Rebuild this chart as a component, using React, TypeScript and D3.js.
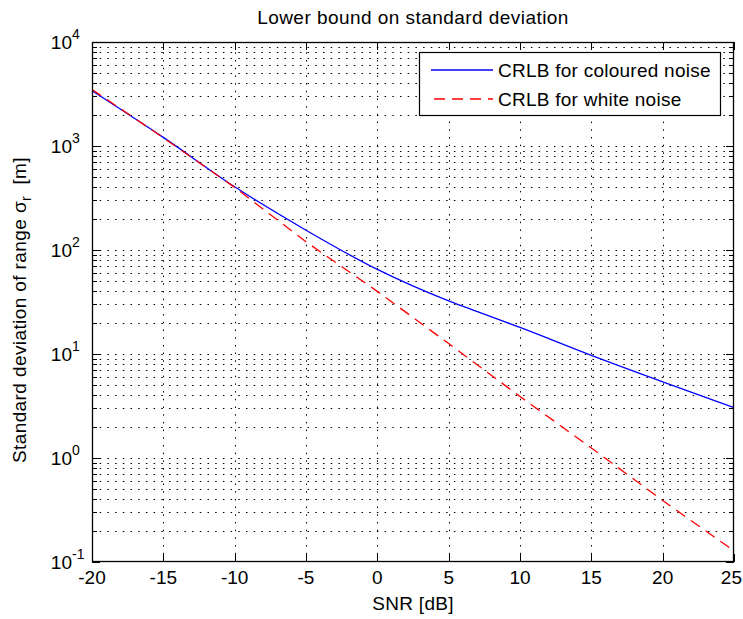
import React, { useEffect } from "react";
import * as d3 from "d3";

const snrTicks = [-20, -15, -10, -5, 0, 5, 10, 15, 20, 25];
const decadeExps = [-1, 0, 1, 2, 3, 4];

const colouredSNR = [-20, -15, -10, -5, 0, 5, 7.2, 10, 15, 20, 25];
const colouredVals = [3400, 1210, 405, 155, 65, 32.4, 25, 18, 9.7, 5.4, 3.05];

const whiteSNR = [-20, -15, -10, -5, 0, 5, 10, 15, 20, 25];
const whiteVals = [3500, 1200, 400, 120, 40, 12.6, 3.9, 1.25, 0.39, 0.128];

const W = 743;
const H = 619;
const L = 92;
const R = 734;
const T = 42;
const B = 562;
const FONT = "'Liberation Sans', Arial, Helvetica, sans-serif";

export default function App() {
  useEffect(() => {
    document.body.style.margin = "0";
  }, []);

  const x = d3.scaleLinear().domain([-20, 25]).range([L, R]);
  const y = d3.scaleLog().domain([0.1, 10000]).range([B, T]);

  const minorVals: number[] = [];
  for (let e = -1; e < 4; e++) {
    for (let k = 1; k <= 9; k++) minorVals.push(k * Math.pow(10, e));
  }

  const blueLine = d3
    .line<number>()
    .x((_, i) => x(colouredSNR[i]))
    .y((d) => y(d))
    .curve(d3.curveMonotoneX)(colouredVals) as string;

  const redLine = d3
    .line<number>()
    .x((_, i) => x(whiteSNR[i]))
    .y((d) => y(d))(whiteVals) as string;

  const dot = "1.5,6.2";

  return (
    <svg width={W} height={H} style={{ display: "block", background: "#fff" }} fontFamily={FONT}>
      <rect x={0} y={0} width={W} height={H} fill="#fff" />
      {/* grid */}
      <g stroke="#000" strokeWidth={1} strokeDasharray={dot} fill="none">
        {minorVals
          .filter((v) => v > 0.1)
          .map((v, i) => (
            <line key={"h" + i} x1={L} x2={R} y1={Math.round(y(v)) + 0.5} y2={Math.round(y(v)) + 0.5} />
          ))}
        {snrTicks.slice(1, -1).map((t) => (
          <line key={"v" + t} x1={Math.round(x(t)) + 0.5} x2={Math.round(x(t)) + 0.5} y1={B} y2={T} />
        ))}
      </g>
      {/* ticks */}
      <g stroke="#000" strokeWidth={1}>
        {snrTicks.map((t) => {
          const xx = Math.round(x(t)) + 0.5;
          return (
            <g key={"xt" + t}>
              <line x1={xx} x2={xx} y1={B} y2={B - 8} />
              <line x1={xx} x2={xx} y1={T} y2={T + 8} />
            </g>
          );
        })}
        {minorVals.concat([10000]).map((v, i) => {
          const yy = Math.round(y(v)) + 0.5;
          const major = Math.abs(Math.log10(v) - Math.round(Math.log10(v))) < 1e-9;
          const len = major ? 8 : 5;
          return (
            <g key={"yt" + i}>
              <line x1={L} x2={L + len} y1={yy} y2={yy} />
              <line x1={R} x2={R - len} y1={yy} y2={yy} />
            </g>
          );
        })}
      </g>
      {/* data */}
      <path d={blueLine} fill="none" stroke="#0000ff" strokeWidth={1.3} />
      <path d={redLine} fill="none" stroke="#ff0000" strokeWidth={1.3} strokeDasharray="11,7" />
      {/* frame */}
      <rect x={L + 0.5} y={T + 0.5} width={R - L - 1} height={B - T - 1} fill="none" stroke="#000" strokeWidth={1.3} />
      {/* x tick labels */}
      <g fontSize={19} fill="#000">
        {snrTicks.map((t, i) => {
          const last = i === snrTicks.length - 1;
          return (
            <text key={"xl" + t} x={last ? W - 1 : x(t)} y={584} textAnchor={last ? "end" : "middle"}>
              {t}
            </text>
          );
        })}
      </g>
      {/* y tick labels */}
      <g fill="#000">
        {decadeExps.map((e) => (
          <text key={"yl" + e} x={72} y={y(Math.pow(10, e)) + 7} fontSize={19} textAnchor="end">
            10
          </text>
        ))}
        {decadeExps.map((e) => (
          <text key={"ye" + e} x={72} y={y(Math.pow(10, e)) - 3} fontSize={14} textAnchor="start">
            {e}
          </text>
        ))}
      </g>
      {/* title */}
      <text x={(L + R) / 2} y={24} fontSize={19} textAnchor="middle" fill="#000" letterSpacing={0.45}>
        Lower bound on standard deviation
      </text>
      {/* x label */}
      <text x={(L + R) / 2} y={610} fontSize={19} textAnchor="middle" fill="#000" letterSpacing={0.3}>
        SNR [dB]
      </text>
      {/* y label */}
      <text
        transform={`translate(26,${(T + B) / 2 + 8}) rotate(-90)`}
        fontSize={19}
        textAnchor="middle"
        fill="#000"
        letterSpacing={0.4}
      >
        Standard deviation of range σ
        <tspan fontSize={14} dy={5}>r</tspan>
        <tspan dy={-5}>{"\u00a0\u00a0[m]"}</tspan>
      </text>
      {/* legend */}
      <g>
        <rect x={419.5} y={52.5} width={301} height={63} fill="#fff" stroke="#000" strokeWidth={1.2} />
        <line x1={431} x2={493} y1={70} y2={70} stroke="#0000ff" strokeWidth={1.3} />
        <line x1={431} x2={493} y1={99} y2={99} stroke="#ff0000" strokeWidth={1.3} strokeDasharray="11,7" strokeDashoffset={-3} />
        <text x={498} y={77} fontSize={19} fill="#000" letterSpacing={0.25}>
          CRLB for coloured noise
        </text>
        <text x={498} y={106} fontSize={19} fill="#000" letterSpacing={0.25}>
          CRLB for white noise
        </text>
      </g>
    </svg>
  );
}
